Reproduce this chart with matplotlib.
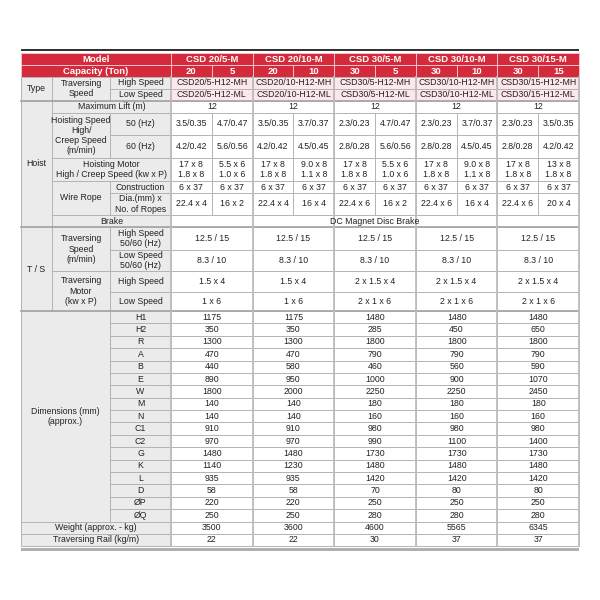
import matplotlib
matplotlib.use("Agg")
import matplotlib.pyplot as plt
from matplotlib.patches import Rectangle

plt.rcParams['font.family'] = ['Liberation Sans', 'DejaVu Sans']

# ---- table content ----
models = ['CSD 20/5-M', 'CSD 20/10-M', 'CSD 30/5-M', 'CSD 30/10-M', 'CSD 30/15-M']
capacity = ['20', '5', '20', '10', '30', '5', '30', '10', '30', '15']
type_high = ['CSD20/5-H12-MH', 'CSD20/10-H12-MH', 'CSD30/5-H12-MH', 'CSD30/10-H12-MH', 'CSD30/15-H12-MH']
type_low = ['CSD20/5-H12-ML', 'CSD20/10-H12-ML', 'CSD30/5-H12-ML', 'CSD30/10-H12-ML', 'CSD30/15-H12-ML']
max_lift = ['12', '12', '12', '12', '12']
hoist_50 = ['3.5/0.35', '4.7/0.47', '3.5/0.35', '3.7/0.37', '2.3/0.23',
            '4.7/0.47', '2.3/0.23', '3.7/0.37', '2.3/0.23', '3.5/0.35']
hoist_60 = ['4.2/0.42', '5.6/0.56', '4.2/0.42', '4.5/0.45', '2.8/0.28',
            '5.6/0.56', '2.8/0.28', '4.5/0.45', '2.8/0.28', '4.2/0.42']
hoist_motor = ['17 x 8\n1.8 x 8', '5.5 x 6\n1.0 x 6', '17 x 8\n1.8 x 8', '9.0 x 8\n1.1 x 8',
               '17 x 8\n1.8 x 8', '5.5 x 6\n1.0 x 6', '17 x 8\n1.8 x 8', '9.0 x 8\n1.1 x 8',
               '17 x 8\n1.8 x 8', '13 x 8\n1.8 x 8']
rope_construction = ['6 x 37'] * 10
rope_dia = ['22.4 x 4', '16 x 2', '22.4 x 4', '16 x 4', '22.4 x 6',
            '16 x 2', '22.4 x 6', '16 x 4', '22.4 x 6', '20 x 4']
brake = 'DC Magnet Disc Brake'
ts_high = ['12.5 / 15'] * 5
ts_low = ['8.3 / 10'] * 5
tm_high = ['1.5 x 4', '1.5 x 4', '2 x 1.5 x 4', '2 x 1.5 x 4', '2 x 1.5 x 4']
tm_low = ['1 x 6', '1 x 6', '2 x 1 x 6', '2 x 1 x 6', '2 x 1 x 6']
dim_labels = ['H1', 'H2', 'R', 'A', 'B', 'E', 'W', 'M', 'N', 'C1', 'C2',
              'G', 'K', 'L', 'D', 'ØP', 'ØQ']
dim_values = [
    ['1175', '1175', '1480', '1480', '1480'],
    ['350', '350', '285', '450', '650'],
    ['1300', '1300', '1800', '1800', '1800'],
    ['470', '470', '790', '790', '790'],
    ['440', '580', '460', '560', '590'],
    ['890', '950', '1000', '900', '1070'],
    ['1800', '2000', '2250', '2250', '2450'],
    ['140', '140', '180', '180', '180'],
    ['140', '140', '160', '160', '160'],
    ['910', '910', '980', '980', '980'],
    ['970', '970', '990', '1100', '1400'],
    ['1480', '1480', '1730', '1730', '1730'],
    ['1140', '1230', '1480', '1480', '1480'],
    ['935', '935', '1420', '1420', '1420'],
    ['58', '58', '70', '80', '80'],
    ['220', '220', '250', '250', '250'],
    ['250', '250', '280', '280', '280'],
]
weight = ['3500', '3600', '4600', '5565', '6345']
rail = ['22', '22', '30', '37', '37']

# ---- layout ----
RED = '#d42a3c'
PINK = '#fde6ec'
GRAY = '#ebebeb'
LINE = '#b4b4b4'
FS = 6.3
HFS = 6.8

X0, X1, X2, X3 = 21, 52, 110, 171
XR = 579
gw = (XR - X3) / 5
groups = [X3 + i * gw for i in range(6)]

fig = plt.figure(figsize=(6, 6), dpi=100)
ax = fig.add_axes([0, 0, 1, 1])
ax.set_xlim(0, 600)
ax.set_ylim(600, 0)
ax.axis('off')


def cell(x0, x1, y0, y1, text='', fc='white', ec=LINE, color='#222222', bold=False, lw=0.7, fs=FS):
    ax.add_patch(Rectangle((x0, y0), x1 - x0, y1 - y0, facecolor=fc, edgecolor=ec, linewidth=lw))
    if text:
        ax.text((x0 + x1) / 2, (y0 + y1) / 2, text, ha='center', va='center', fontsize=fs,
                color=color, fontweight='bold' if bold else 'normal', linespacing=1.15)


def subcols(y0, y1, vals, fc='white'):
    for i, v in enumerate(vals):
        g = i // 2
        mid = (groups[g] + groups[g + 1]) / 2
        xa, xb = (groups[g], mid) if i % 2 == 0 else (mid, groups[g + 1])
        cell(xa, xb, y0, y1, v, fc=fc)


def groupcols(y0, y1, vals, fc='white'):
    for g, v in enumerate(vals):
        cell(groups[g], groups[g + 1], y0, y1, v, fc=fc)


# top dark bar and bottom gray bar
ax.add_patch(Rectangle((X0, 48.5), XR - X0, 2.5, facecolor='#333333', edgecolor='none'))
ax.add_patch(Rectangle((X0, 548), XR - X0, 3, facecolor='#b0b0b0', edgecolor='none'))

# header
hdr = dict(fc=RED, ec='#f3c4ca', color='white', bold=True, fs=HFS)
cell(X0, X3, 53, 65, 'Model', **hdr)
cell(X0, X3, 65, 77, 'Capacity (Ton)', **hdr)
for g, m in enumerate(models):
    cell(groups[g], groups[g + 1], 53, 65, m, **hdr)
for i, c in enumerate(capacity):
    g = i // 2
    mid = (groups[g] + groups[g + 1]) / 2
    xa, xb = (groups[g], mid) if i % 2 == 0 else (mid, groups[g + 1])
    cell(xa, xb, 65, 77, c, **hdr)

# type
cell(X0, X1, 77, 100.5, 'Type', fc=GRAY)
cell(X1, X2, 77, 100.5, 'Traversing\nSpeed', fc=GRAY)
cell(X2, X3, 77, 88.5, 'High Speed', fc=GRAY)
cell(X2, X3, 88.5, 100.5, 'Low Speed', fc=GRAY)
groupcols(77, 88.5, type_high, fc=PINK)
groupcols(88.5, 100.5, type_low, fc=PINK)

# hoist
cell(X0, X1, 100.5, 227, 'Hoist', fc=GRAY)
cell(X1, X3, 100.5, 112.5, 'Maximum Lift (m)', fc=GRAY)
groupcols(100.5, 112.5, max_lift)
cell(X1, X2, 112.5, 158, 'Hoisting Speed\nHigh/\nCreep Speed\n(m/min)', fc=GRAY)
cell(X2, X3, 112.5, 135, '50 (Hz)', fc=GRAY)
cell(X2, X3, 135, 158, '60 (Hz)', fc=GRAY)
subcols(112.5, 135, hoist_50)
subcols(135, 158, hoist_60)
cell(X1, X3, 158, 181, 'Hoisting Motor\nHigh / Creep Speed (kw x P)', fc=GRAY)
subcols(158, 181, hoist_motor)
cell(X1, X2, 181, 215, 'Wire Rope', fc=GRAY)
cell(X2, X3, 181, 193, 'Construction', fc=GRAY)
cell(X2, X3, 193, 215, 'Dia.(mm) x\nNo. of Ropes', fc=GRAY)
subcols(181, 193, rope_construction)
subcols(193, 215, rope_dia)
cell(X1, X3, 215, 227, 'Brake', fc=GRAY)
cell(X3, XR, 215, 227, brake)

# traversing section
cell(X0, X1, 227, 311, 'T / S', fc=GRAY)
cell(X1, X2, 227, 271, 'Traversing\nSpeed\n(m/min)', fc=GRAY)
cell(X2, X3, 227, 249.5, 'High Speed\n50/60 (Hz)', fc=GRAY)
cell(X2, X3, 249.5, 271, 'Low Speed\n50/60 (Hz)', fc=GRAY)
groupcols(227, 249.5, ts_high)
groupcols(249.5, 271, ts_low)
cell(X1, X2, 271, 311, 'Traversing\nMotor\n(kw x P)', fc=GRAY)
cell(X2, X3, 271, 292, 'High Speed', fc=GRAY)
cell(X2, X3, 292, 311, 'Low Speed', fc=GRAY)
groupcols(271, 292, tm_high)
groupcols(292, 311, tm_low)

# dimensions
d0, d1 = 311, 521.5
rh = (d1 - d0) / len(dim_labels)
cell(X0, X2, d0, d1, 'Dimensions (mm)\n(approx.)', fc=GRAY)
for r, lab in enumerate(dim_labels):
    y0 = d0 + r * rh
    cell(X2, X3, y0, y0 + rh, lab, fc=GRAY)
    groupcols(y0, y0 + rh, dim_values[r])

cell(X0, X3, 521.5, 533.5, 'Weight (approx. - kg)', fc=GRAY)
groupcols(521.5, 533.5, weight)
cell(X0, X3, 533.5, 545.5, 'Traversing Rail (kg/m)', fc=GRAY)
groupcols(533.5, 545.5, rail)

# heavier section / group separators
for y in [100.5, 227, 311]:
    ax.plot([X0, XR], [y, y], color='#a8a8a8', lw=1.3)
for x in groups:
    ax.plot([x, x], [77, 545.5], color='#bdbdbd', lw=1.3)

fig.savefig('out.png', dpi=100)
